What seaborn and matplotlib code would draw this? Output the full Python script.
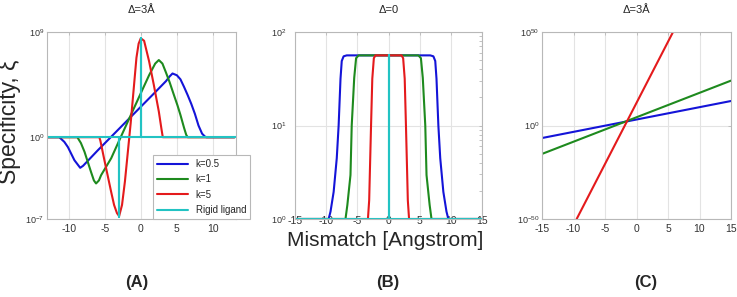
import numpy as np
import matplotlib
matplotlib.use("Agg")
import matplotlib.pyplot as plt
import seaborn as sns
from matplotlib.ticker import LogLocator, NullFormatter

# ---------------------------------------------------
# Data (log10 of specificity)
# ---------------------------------------------------

labels = ["k=0.5", "k=1", "k=5", "Rigid ligand"]
colors = ["#1414d8", "#1e8a1e", "#e41a1c", "#22c3c3"]

# Panel A: delta = 3 A
a_blue_x = [-13, -11.3, -10.6, -10.1, -9.2, -8.4, -8.0, -6.0, -4.0, -2.0, 0.0, 2.0,
            3.5, 4.0, 4.4, 5.0, 5.5, 6.0, 6.5, 7.0, 7.5, 8.0, 8.5, 8.9, 9.1, 13]
a_blue_log = [0, 0, -0.4, -0.85, -1.97, -2.62, -2.45, -1.15, 0.1, 1.35, 2.6, 3.85,
              4.8, 5.2, 5.45, 5.3, 4.95, 4.3, 3.6, 2.85, 2.0, 1.0, 0.3, 0.05, 0, 0]

a_green_x = [-13, -8.8, -8.3, -7.8, -6.9, -6.5, -6.2, -5.8, -5.5, -4.1, -2.9, -1.6,
             0.0, 1.15, 2.0, 2.5, 3.0, 3.45, 4.0, 4.6, 5.1, 5.5, 6.0, 6.3, 6.5, 13]
a_green_log = [0, 0, -0.5, -1.25, -2.97, -3.7, -3.96, -3.7, -3.25, -1.8, -0.16, 1.6,
               3.76, 5.3, 6.3, 6.6, 6.3, 5.6, 4.7, 3.6, 2.7, 1.9, 0.8, 0.2, 0, 0]

a_red_x = [-13, -5.75, -5.6, -5.1, -4.6, -4.1, -3.7, -3.3, -3.0, -2.6, -2.2, -1.8,
           -1.4, -1.0, -0.6, -0.3, 0.0, 0.46, 1.15, 1.8, 2.5, 2.85, 3.05, 13]
a_red_log = [0, 0, -0.3, -1.8, -3.25, -4.7, -5.8, -6.5, -6.75, -5.8, -3.8, -1.3,
             1.2, 4.0, 6.8, 8.0, 8.46, 8.25, 6.5, 4.5, 2.2, 0.77, 0, 0]

a_cyan_x = [-13, -2.95, -2.95, -2.95, 0.05, 0.05, 0.05, 13.2]
a_cyan_log = [0, 0, -6.8, 0, 0, 8.5, 0, 0]

# Panel B: delta = 0
b_blue_x = [-15, -9.6, -9.3, -8.8, -8.3, -8.0, -7.7, -7.5, -7.2, -6.7,
            6.7, 7.2, 7.5, 7.7, 8.0, 8.3, 8.8, 9.3, 9.6, 15]
b_blue_log = [0, 0, 0.08, 0.29, 0.65, 1.0, 1.5, 1.69, 1.74, 1.75,
              1.75, 1.74, 1.69, 1.5, 1.0, 0.65, 0.29, 0.08, 0, 0]

b_green_x = [-15, -6.9, -6.6, -6.1, -5.9, -5.5, -5.2, -4.8,
             4.8, 5.2, 5.5, 5.9, 6.1, 6.6, 6.9, 15]
b_green_log = [0, 0, 0.15, 0.47, 1.0, 1.51, 1.72, 1.75,
               1.75, 1.72, 1.51, 1.0, 0.47, 0.15, 0, 0]

b_red_x = [-15, -3.3, -3.1, -3.0, -2.8, -2.6, -2.35, -2.1,
           2.1, 2.35, 2.6, 2.8, 3.0, 3.1, 3.3, 15]
b_red_log = [0, 0, 0.2, 0.47, 1.0, 1.5, 1.72, 1.75,
             1.75, 1.72, 1.5, 1.0, 0.47, 0.2, 0, 0]

b_cyan_x = [-15, 0, 0, 0, 15]
b_cyan_log = [0, 0, 1.75, 0, 0]

# Panel C: delta = 3 A (large range)
c_blue_x = [-15, 15]
c_blue_log = [-6.7, 13.1]
c_green_x = [-15, 15]
c_green_log = [-15.2, 24.0]
c_red_x = [-9.5, 5.8]
c_red_log = [-50, 50]

# ---------------------------------------------------
# Style
# ---------------------------------------------------

sns.set_style("white")
plt.rcParams["font.family"] = ["Liberation Sans", "DejaVu Sans"]
plt.rcParams["mathtext.fontset"] = "custom"
plt.rcParams["mathtext.rm"] = "Liberation Sans"

fig = plt.figure(figsize=(7.37, 2.97), dpi=100)

W, H = 737.0, 297.0


def make_axes(left, right):
    return fig.add_axes([left / W, 1 - 219 / H, (right - left) / W, 187 / H])


def style_axes(ax, xlim, xticks, ylim, yticks):
    ax.set_yscale("log")
    ax.set_xlim(*xlim)
    ax.set_ylim(*ylim)
    ax.set_xticks(xticks)
    ax.set_xticklabels([str(t) for t in xticks])
    ax.set_yticks(yticks)
    ax.set_yticklabels([r"$10^{%d}$" % int(round(np.log10(t))) for t in yticks])
    ax.yaxis.set_minor_formatter(NullFormatter())
    ax.grid(True, which="major", color="#e3e3e3", linewidth=0.8)
    ax.set_axisbelow(True)
    for s in ax.spines.values():
        s.set_color("#b8b8b8")
        s.set_linewidth(0.8)
    ax.tick_params(axis="both", which="both", direction="in", colors="#b8b8b8",
                   labelcolor="#333333", labelsize=7.5, top=True, right=True,
                   length=2.5, width=0.6)
    ax.tick_params(axis="y", labelsize=6.5, pad=2)
    ax.set_xlabel("")
    ax.set_ylabel("")


def draw(ax, xs, logs, color, label=None):
    sns.lineplot(x=xs, y=10.0 ** np.array(logs, dtype=float), ax=ax, color=color,
                 linewidth=1.5, sort=False, estimator=None, label=label,
                 legend=False)


# ---------------------------------------------------
# Panel A
# ---------------------------------------------------

axA = make_axes(47, 236)
draw(axA, a_blue_x, a_blue_log, colors[0], labels[0])
draw(axA, a_green_x, a_green_log, colors[1], labels[1])
draw(axA, a_red_x, a_red_log, colors[2], labels[2])
draw(axA, a_cyan_x, a_cyan_log, colors[3], labels[3])
style_axes(axA, (-13, 13.2), [-10, -5, 0, 5, 10], (1e-7, 1e9), [1e-7, 1e0, 1e9])
axA.yaxis.set_minor_locator(plt.NullLocator())
axA.set_title("Δ=3Å", fontsize=8, pad=14)
leg = axA.legend(labels=labels, loc="lower right", bbox_to_anchor=(1.075, 0.0),
                 borderaxespad=0, fontsize=7, handlelength=3.2, labelspacing=0.55,
                 fancybox=False, framealpha=1, edgecolor="#b8b8b8")
leg.get_frame().set_linewidth(0.8)

# ---------------------------------------------------
# Panel B
# ---------------------------------------------------

axB = make_axes(295, 482)
draw(axB, b_blue_x, b_blue_log, colors[0])
draw(axB, b_green_x, b_green_log, colors[1])
draw(axB, b_red_x, b_red_log, colors[2])
draw(axB, b_cyan_x, b_cyan_log, colors[3])
style_axes(axB, (-15, 15), [-15, -10, -5, 0, 5, 10, 15], (1, 100), [1, 10, 100])
axB.yaxis.set_minor_locator(LogLocator(base=10, subs=np.arange(2, 10)))
axB.tick_params(axis="x", pad=-2.5)
axB.tick_params(axis="y", pad=6)
axB.set_title("Δ=0", fontsize=8, pad=14)

# ---------------------------------------------------
# Panel C
# ---------------------------------------------------

axC = make_axes(542, 731)
draw(axC, c_blue_x, c_blue_log, colors[0])
draw(axC, c_green_x, c_green_log, colors[1])
draw(axC, c_red_x, c_red_log, colors[2])
style_axes(axC, (-15, 15), [-15, -10, -5, 0, 5, 10, 15], (1e-50, 1e50), [1e-50, 1e0, 1e50])
axC.yaxis.set_minor_locator(plt.NullLocator())
axC.set_title("Δ=3Å", fontsize=8, pad=14)

# ---------------------------------------------------
# Shared labels
# ---------------------------------------------------

fig.text(10 / W, 1 - 122 / H, "Specificity, ξ", rotation=90, fontsize=16.5,
         ha="center", va="center")
fig.text(385 / W, 1 - 240 / H, "Mismatch [Angstrom]", fontsize=15,
         ha="center", va="center")
for x, t in [(137, "(A)"), (388, "(B)"), (646, "(C)")]:
    fig.text(x / W, 1 - 283 / H, t, fontsize=12, fontweight="bold",
             ha="center", va="center")

fig.savefig("out.png", dpi=100)
